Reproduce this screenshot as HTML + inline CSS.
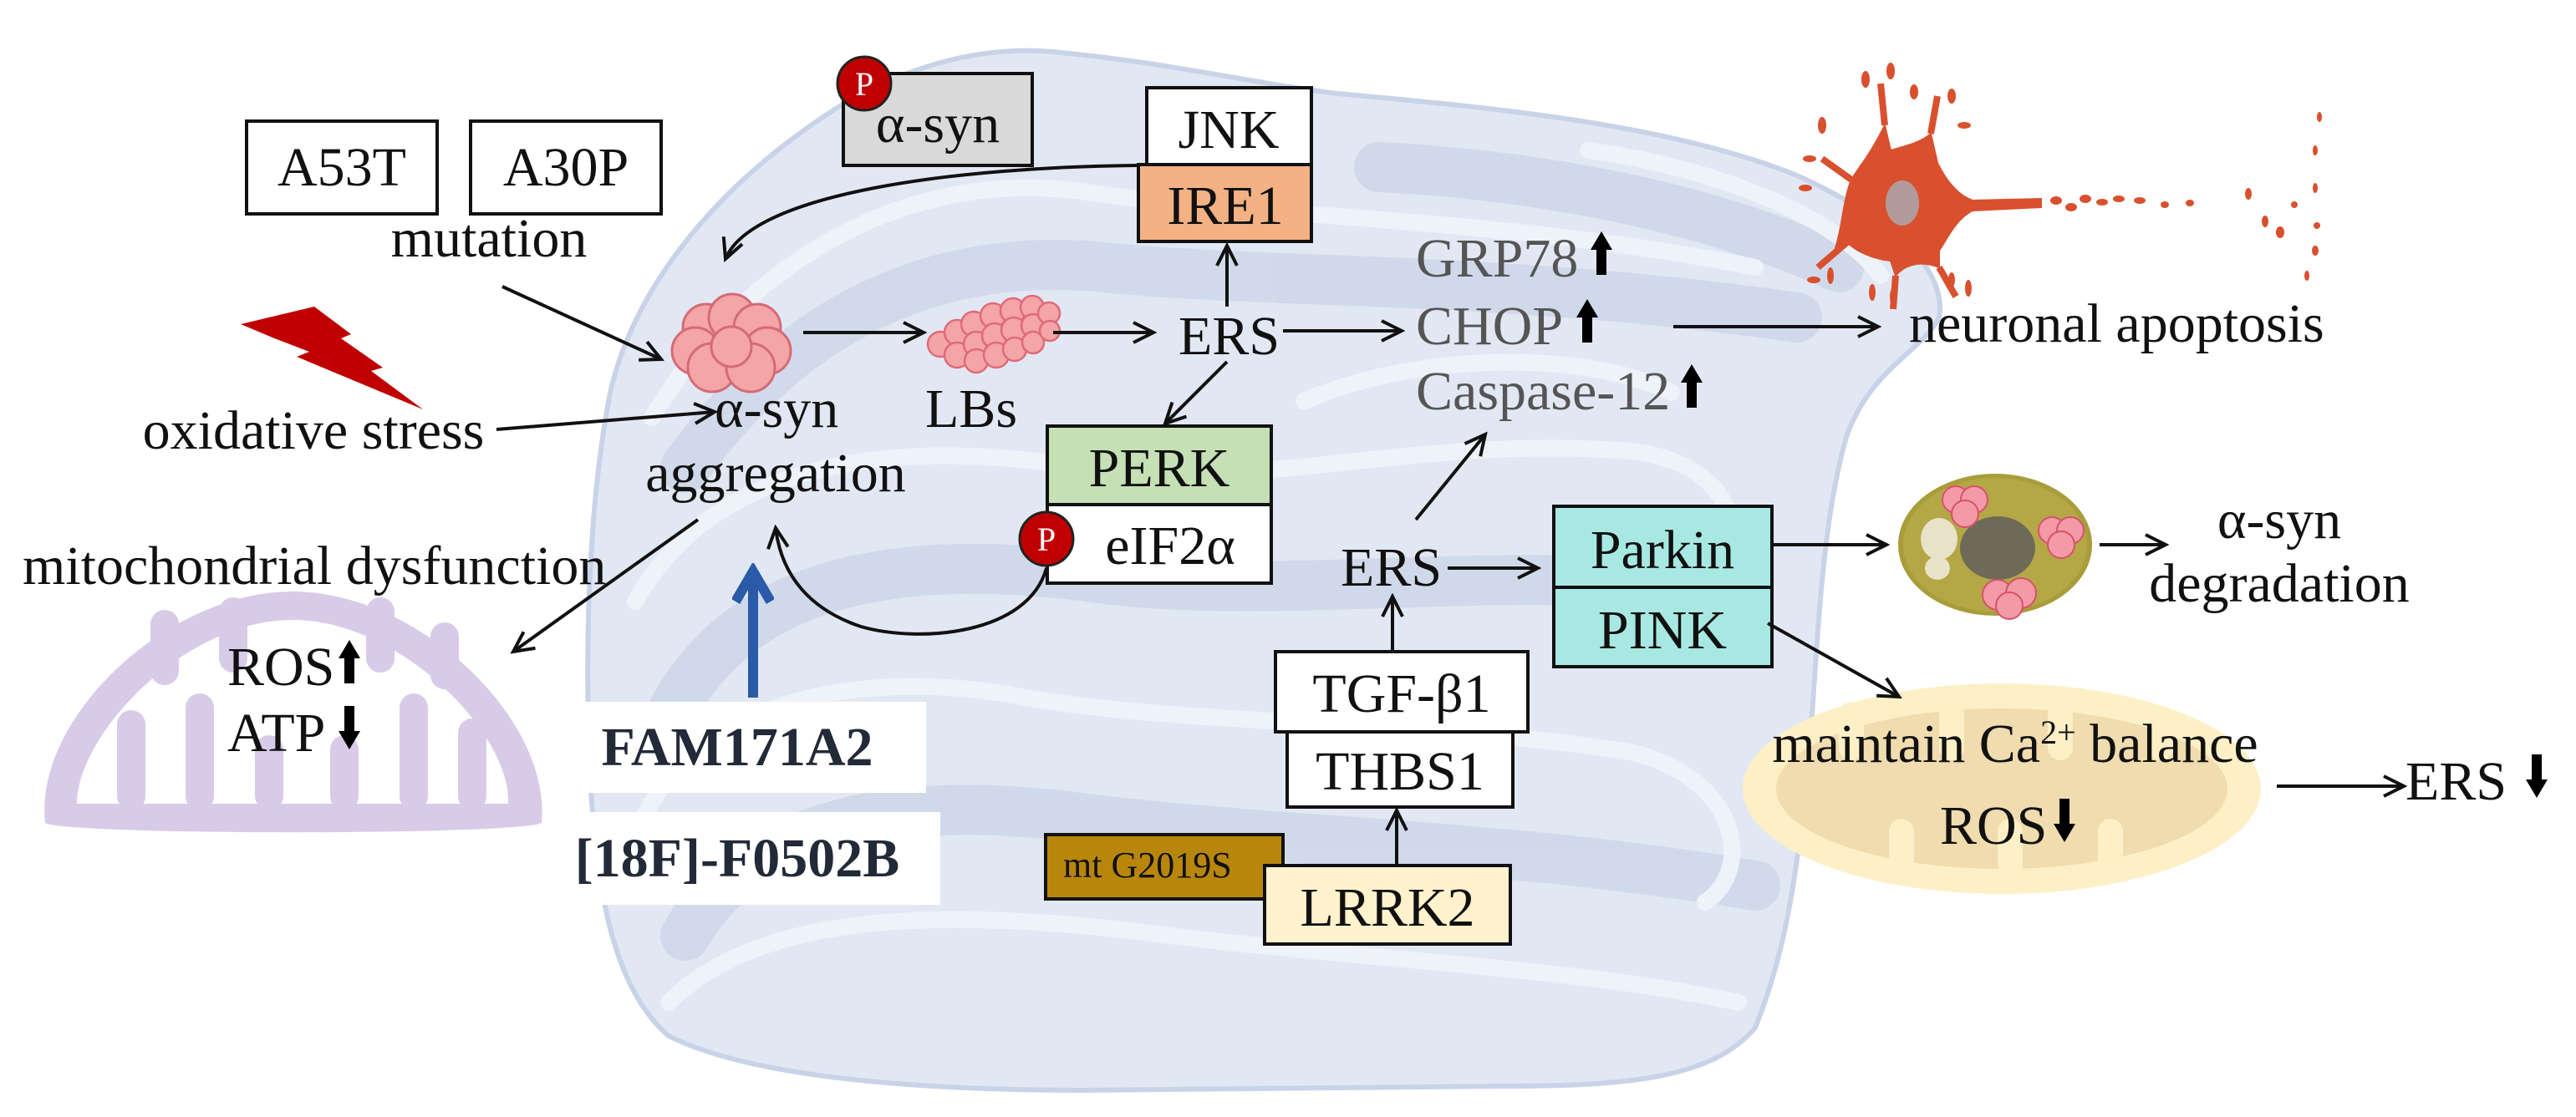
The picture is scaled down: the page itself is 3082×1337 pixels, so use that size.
<!DOCTYPE html>
<html><head><meta charset="utf-8"><style>
html,body{margin:0;padding:0;background:#fff}
svg{display:block}
text{font-family:"Liberation Serif",serif;fill:#111}
</style></head><body>
<svg width="3082" height="1337" viewBox="0 0 3082 1337" xmlns="http://www.w3.org/2000/svg" font-size="66">
<defs>
<marker id="ah" markerWidth="30" markerHeight="30" refX="26" refY="14" orient="auto" markerUnits="userSpaceOnUse">
<path d="M2,2 L26,14 L2,26" fill="none" stroke="#111" stroke-width="4"/>
</marker>
<marker id="bh" markerWidth="50" markerHeight="50" refX="40" refY="25" orient="auto" markerUnits="userSpaceOnUse">
<path d="M4,4 L40,25 L4,46" fill="none" stroke="#2a5aa8" stroke-width="12"/>
</marker>
<g id="up"><polygon points="-6,0 6,0 6,-30 13,-30 0,-52 -13,-30 -6,-30" fill="#000"/></g>
<g id="dn"><polygon points="-6,-52 6,-52 6,-22 13,-22 0,0 -13,-22 -6,-22" fill="#000"/></g>
</defs>

<!-- ER background -->
<path d="M730,470 C760,340 860,220 1000,130 C1090,75 1180,55 1260,62 C1400,75 1500,100 1600,112 C1800,130 2000,150 2150,210 C2260,260 2330,320 2320,380 C2300,420 2240,440 2210,520 C2180,620 2175,760 2165,900 C2150,1040 2140,1130 2100,1230 C2050,1290 1950,1300 1800,1300 L1300,1305 C1100,1305 900,1290 800,1240 C730,1180 710,1050 705,900 C700,760 705,600 730,470 Z" fill="#e2e8f3" stroke="#c9d3e8" stroke-width="6"/>
<g fill="none" stroke="#cfd8ea" stroke-width="60" stroke-linecap="round" opacity="0.9">
<path d="M820,560 C950,380 1120,300 1320,320 C1520,340 1800,330 2150,380"/>
<path d="M800,860 C880,700 1060,660 1300,690 C1500,720 1750,680 2000,700"/>
<path d="M820,1120 C900,980 1080,950 1300,980 C1550,1010 1800,1010 2100,1060"/>
<path d="M1650,200 C1850,210 2050,250 2200,320"/>
</g>
<g fill="none" stroke="#eef2f9" stroke-width="20" stroke-linecap="round">
<path d="M780,500 C900,300 1100,200 1300,230 C1500,260 1800,260 2100,320"/>
<path d="M760,720 C850,560 1050,520 1300,560 C1500,590 1700,520 1950,540 C2050,550 2100,620 2050,680"/>
<path d="M760,1000 C820,850 1000,800 1200,830 C1400,870 1700,860 1950,900 C2080,930 2100,1040 2040,1080"/>
<path d="M800,1200 C900,1100 1100,1080 1400,1120 C1650,1150 1900,1160 2080,1200"/>
<path d="M1900,180 C2050,200 2200,260 2250,330"/>
<path d="M1560,480 C1700,420 1900,420 2000,470"/>
</g>

<!-- Purple mitochondrion -->
<path d="M54,985 C40,860 200,708 350,708 C500,708 660,860 648,985 C620,1000 80,1000 54,985 Z" fill="#d8cbe8"/>
<path d="M92,962 C92,880 220,742 350,742 C480,742 612,880 608,962 Z" fill="#fff"/>
<g fill="#d8cbe8">
<rect x="140" y="850" width="34" height="120" rx="17"/><rect x="222" y="830" width="34" height="140" rx="17"/>
<rect x="305" y="880" width="34" height="90" rx="17"/><rect x="395" y="880" width="34" height="90" rx="17"/>
<rect x="478" y="830" width="34" height="140" rx="17"/><rect x="548" y="860" width="34" height="110" rx="17"/>
<rect x="180" y="730" width="34" height="90" rx="17"/><rect x="262" y="715" width="34" height="90" rx="17"/>
<rect x="438" y="715" width="34" height="90" rx="17"/><rect x="515" y="745" width="34" height="80" rx="17"/>
</g>
<text x="272" y="820">ROS</text><use href="#up" x="418" y="818"/>
<text x="272" y="899">ATP</text><use href="#dn" x="418" y="897"/>

<!-- Yellow mitochondrion -->
<ellipse cx="2395" cy="944" rx="310" ry="126" fill="#fdf0c6"/>
<ellipse cx="2395" cy="944" rx="270" ry="96" fill="#f0dcae"/>
<g fill="#fdf0c6">
<rect x="2200" y="840" width="30" height="70" rx="15"/><rect x="2320" y="840" width="30" height="70" rx="15"/>
<rect x="2450" y="840" width="30" height="70" rx="15"/><rect x="2570" y="850" width="30" height="60" rx="15"/>
<rect x="2260" y="980" width="30" height="70" rx="15"/><rect x="2390" y="980" width="30" height="70" rx="15"/>
<rect x="2510" y="980" width="30" height="70" rx="15"/>
</g>
<text x="2411" y="912" text-anchor="middle">maintain Ca<tspan style="font-size:40px" dy="-22">2+</tspan><tspan dy="22"> balance</tspan></text>
<text x="2321" y="1010">ROS</text><use href="#dn" x="2470" y="1008"/>
<line x1="2724" y1="941" x2="2876" y2="941" stroke="#111" stroke-width="4" marker-end="url(#ah)"/>
<text x="2878" y="957">ERS</text><use href="#dn" x="3035" y="955"/>

<!-- lightning -->
<polygon points="288,388 376,367 420,400 408,405 458,440 444,444 506,490 355,427 370,421 326,404" fill="#c00000"/>

<!-- boxes A53T A30P -->
<rect x="295" y="145" width="228" height="111" fill="#fff" stroke="#111" stroke-width="4"/>
<text x="409" y="222" text-anchor="middle">A53T</text>
<rect x="563" y="145" width="228" height="111" fill="#fff" stroke="#111" stroke-width="4"/>
<text x="677" y="222" text-anchor="middle">A30P</text>
<text x="585" y="307" text-anchor="middle">mutation</text>
<line x1="601" y1="343" x2="791" y2="430" stroke="#111" stroke-width="4" marker-end="url(#ah)"/>

<text x="375" y="537" text-anchor="middle">oxidative stress</text>
<line x1="594" y1="514" x2="855" y2="493" stroke="#111" stroke-width="4" marker-end="url(#ah)"/>

<!-- alpha-syn cluster -->
<g fill="#f4a5a5" stroke="#d56a78" stroke-width="3">
<circle cx="845" cy="392" r="28"/><circle cx="876" cy="380" r="28"/><circle cx="906" cy="392" r="28"/>
<circle cx="832" cy="420" r="28"/><circle cx="918" cy="420" r="28"/>
<circle cx="852" cy="440" r="29"/><circle cx="898" cy="440" r="29"/><circle cx="875" cy="415" r="24"/>
</g>
<text x="855" y="511">α-syn</text>
<text x="928" y="588" text-anchor="middle">aggregation</text>
<line x1="961" y1="398" x2="1105" y2="398" stroke="#111" stroke-width="4" marker-end="url(#ah)"/>

<!-- LBs -->
<g fill="#f4a5a5" stroke="#e06a7a" stroke-width="2.5">
<circle cx="1125" cy="412" r="15"/><circle cx="1145" cy="398" r="15"/><circle cx="1145" cy="425" r="15"/>
<circle cx="1165" cy="388" r="15"/><circle cx="1168" cy="412" r="15"/><circle cx="1168" cy="432" r="14"/>
<circle cx="1188" cy="378" r="15"/><circle cx="1190" cy="402" r="15"/><circle cx="1192" cy="425" r="15"/>
<circle cx="1212" cy="372" r="15"/><circle cx="1213" cy="395" r="15"/><circle cx="1214" cy="418" r="14"/>
<circle cx="1235" cy="368" r="14"/><circle cx="1236" cy="390" r="14"/><circle cx="1236" cy="410" r="13"/>
<circle cx="1255" cy="375" r="13"/><circle cx="1256" cy="396" r="12"/>
</g>
<text x="1162" y="511" text-anchor="middle">LBs</text>
<line x1="1260" y1="398" x2="1380" y2="398" stroke="#111" stroke-width="4" marker-end="url(#ah)"/>
<text x="1410" y="424">ERS</text>
<line x1="1468" y1="367" x2="1468" y2="294" stroke="#111" stroke-width="4" marker-end="url(#ah)"/>
<line x1="1468" y1="433" x2="1394" y2="507" stroke="#111" stroke-width="4" marker-end="url(#ah)"/>
<line x1="1535" y1="396" x2="1677" y2="396" stroke="#111" stroke-width="4" marker-end="url(#ah)"/>

<!-- P alpha-syn -->
<rect x="1009" y="88" width="226" height="110" fill="#d9d9d9" stroke="#111" stroke-width="4"/>
<text x="1122" y="170" text-anchor="middle">α-syn</text>
<circle cx="1034" cy="100" r="32" fill="#c00000" stroke="#222" stroke-width="3"/>
<text x="1034" y="114" text-anchor="middle" style="font-size:40px;fill:#fff">P</text>

<!-- JNK / IRE1 -->
<rect x="1372" y="105" width="197" height="92" fill="#fff" stroke="#111" stroke-width="4"/>
<text x="1470" y="177" text-anchor="middle">JNK</text>
<rect x="1362" y="197" width="207" height="92" fill="#f4b183" stroke="#111" stroke-width="4"/>
<text x="1466" y="268" text-anchor="middle">IRE1</text>
<path d="M1360,198 C1150,200 900,230 868,310" fill="none" stroke="#111" stroke-width="4" marker-end="url(#ah)"/>

<!-- PERK / eIF2a -->
<rect x="1253" y="510" width="268" height="94" fill="#c5e0b4" stroke="#111" stroke-width="4"/>
<text x="1387" y="582" text-anchor="middle">PERK</text>
<rect x="1253" y="604" width="268" height="94" fill="#fff" stroke="#111" stroke-width="4"/>
<text x="1400" y="675" text-anchor="middle">eIF2α</text>
<path d="M1252,680 C1230,760 1100,770 1030,750 C970,730 935,690 928,632" fill="none" stroke="#111" stroke-width="4" marker-end="url(#ah)"/>
<circle cx="1252" cy="645" r="32" fill="#c00000" stroke="#222" stroke-width="3"/>
<text x="1252" y="659" text-anchor="middle" style="font-size:40px;fill:#fff">P</text>

<!-- mito dysfunction -->
<text x="27" y="699">mitochondrial dysfunction</text>
<line x1="835" y1="622" x2="614" y2="780" stroke="#111" stroke-width="4" marker-end="url(#ah)"/>

<!-- blue arrow + drugs -->
<line x1="901" y1="835" x2="901" y2="684" stroke="#2a5aa8" stroke-width="12" marker-end="url(#bh)"/>
<rect x="688" y="840" width="420" height="109" fill="#fff"/>
<text x="882" y="916" text-anchor="middle" font-weight="bold" style="fill:#222a38">FAM171A2</text>
<rect x="688" y="972" width="437" height="111" fill="#fff"/>
<text x="882" y="1049" text-anchor="middle" font-weight="bold" style="fill:#222a38">[18F]-F0502B</text>

<!-- GRP78 etc -->
<text x="1694" y="331" style="fill:#555">GRP78</text><use href="#up" x="1916" y="329"/>
<text x="1694" y="412" style="fill:#555">CHOP</text><use href="#up" x="1899" y="410"/>
<text x="1694" y="490" style="fill:#555">Caspase-12</text><use href="#up" x="2024" y="488"/>
<line x1="2002" y1="391" x2="2247" y2="391" stroke="#111" stroke-width="4" marker-end="url(#ah)"/>
<text x="2284" y="409">neuronal apoptosis</text>

<!-- neuron -->
<g fill="#d9502e" stroke="#d9502e">
<path d="M2225,200 C2240,180 2250,160 2255,150 L2262,180 C2280,175 2300,170 2310,160 L2318,195 C2330,220 2345,235 2360,240 L2442,238 L2442,248 L2360,252 C2340,262 2330,285 2320,300 L2320,320 C2300,312 2280,315 2268,330 L2262,312 C2240,310 2220,300 2210,290 L2195,300 C2205,270 2205,240 2215,215 Z" stroke-width="2"/>
<path d="M2255,150 L2250,100 M2310,160 L2318,115 M2215,215 L2180,190 M2210,290 L2175,320 M2268,330 L2265,370 M2320,320 L2340,355" fill="none" stroke-width="8"/>
<g stroke="none">
<ellipse cx="2232" cy="95" rx="5" ry="10"/><ellipse cx="2262" cy="85" rx="5" ry="10"/><ellipse cx="2290" cy="110" rx="5" ry="9"/><ellipse cx="2335" cy="115" rx="5" ry="9"/><ellipse cx="2350" cy="150" rx="8" ry="4"/>
<ellipse cx="2180" cy="150" rx="5" ry="10"/><ellipse cx="2165" cy="190" rx="8" ry="4"/><ellipse cx="2160" cy="225" rx="8" ry="4"/>
<ellipse cx="2170" cy="335" rx="8" ry="4"/><ellipse cx="2190" cy="330" rx="4" ry="10"/><ellipse cx="2240" cy="350" rx="4" ry="10"/><ellipse cx="2265" cy="355" rx="4" ry="10"/><ellipse cx="2335" cy="335" rx="4" ry="9"/><ellipse cx="2355" cy="345" rx="4" ry="10"/>
<ellipse cx="2460" cy="240" rx="7" ry="5"/><ellipse cx="2478" cy="248" rx="7" ry="5"/><ellipse cx="2495" cy="238" rx="7" ry="5"/><ellipse cx="2515" cy="242" rx="7" ry="4"/><ellipse cx="2535" cy="238" rx="7" ry="4"/><ellipse cx="2560" cy="240" rx="7" ry="4"/><ellipse cx="2590" cy="245" rx="5" ry="4"/><ellipse cx="2620" cy="243" rx="5" ry="4"/>
<ellipse cx="2690" cy="232" rx="4" ry="7"/><ellipse cx="2710" cy="265" rx="4" ry="7"/><ellipse cx="2728" cy="278" rx="5" ry="7"/><ellipse cx="2745" cy="245" rx="4" ry="4"/><ellipse cx="2770" cy="225" rx="3" ry="6"/><ellipse cx="2770" cy="180" rx="3" ry="6"/><ellipse cx="2775" cy="140" rx="3" ry="6"/><ellipse cx="2770" cy="300" rx="4" ry="6"/><ellipse cx="2760" cy="330" rx="3" ry="6"/><ellipse cx="2772" cy="270" rx="4" ry="4"/>
</g>
</g>
<ellipse cx="2276" cy="243" rx="20" ry="27" fill="#b39a9a"/>

<!-- ERS 2 -->
<text x="1604" y="701">ERS</text>
<line x1="1694" y1="622" x2="1777" y2="520" stroke="#111" stroke-width="4" marker-end="url(#ah)"/>
<line x1="1732" y1="680" x2="1840" y2="680" stroke="#111" stroke-width="4" marker-end="url(#ah)"/>
<line x1="1666" y1="780" x2="1666" y2="714" stroke="#111" stroke-width="4" marker-end="url(#ah)"/>

<!-- Parkin / PINK -->
<rect x="1859" y="606" width="261" height="97" fill="#a8e8e2" stroke="#111" stroke-width="4"/>
<text x="1989" y="680" text-anchor="middle">Parkin</text>
<rect x="1859" y="703" width="261" height="95" fill="#a8e8e2" stroke="#111" stroke-width="4"/>
<text x="1989" y="776" text-anchor="middle">PINK</text>
<line x1="2120" y1="652" x2="2257" y2="652" stroke="#111" stroke-width="4" marker-end="url(#ah)"/>
<line x1="2115" y1="746" x2="2272" y2="834" stroke="#111" stroke-width="4" marker-end="url(#ah)"/>

<!-- lysosome -->
<ellipse cx="2387" cy="652" rx="116" ry="85" fill="#a89d3a"/>
<ellipse cx="2387" cy="652" rx="110" ry="80" fill="#b3a845"/>
<ellipse cx="2390" cy="656" rx="45" ry="38" fill="#6e6a58"/>
<ellipse cx="2320" cy="645" rx="22" ry="25" fill="#e8e2c8"/><ellipse cx="2318" cy="680" rx="15" ry="14" fill="#e8e2c8"/>
<g fill="#f29aa8" stroke="#d9506a" stroke-width="2">
<circle cx="2340" cy="598" r="16"/><circle cx="2362" cy="598" r="16"/><circle cx="2351" cy="615" r="16"/>
<circle cx="2455" cy="635" r="16"/><circle cx="2477" cy="635" r="16"/><circle cx="2466" cy="652" r="16"/>
<circle cx="2390" cy="712" r="18"/><circle cx="2418" cy="710" r="18"/><circle cx="2404" cy="725" r="16"/>
</g>
<line x1="2512" y1="652" x2="2591" y2="652" stroke="#111" stroke-width="4" marker-end="url(#ah)"/>
<text x="2727" y="644" text-anchor="middle">α-syn</text>
<text x="2727" y="720" text-anchor="middle">degradation</text>

<!-- TGF, THBS1, LRRK2 -->
<rect x="1526" y="780" width="302" height="96" fill="#fff" stroke="#111" stroke-width="4"/>
<text x="1677" y="852" text-anchor="middle">TGF-β1</text>
<rect x="1540" y="876" width="270" height="90" fill="#fff" stroke="#111" stroke-width="4"/>
<text x="1675" y="945" text-anchor="middle">THBS1</text>
<line x1="1671" y1="1036" x2="1671" y2="970" stroke="#111" stroke-width="4" marker-end="url(#ah)"/>
<rect x="1251" y="999" width="284" height="77" fill="#b8860b" stroke="#111" stroke-width="4"/>
<text x="1272" y="1050" style="font-size:44px">mt G2019S</text>
<rect x="1513" y="1036" width="294" height="94" fill="#fff2cc" stroke="#111" stroke-width="4"/>
<text x="1660" y="1108" text-anchor="middle">LRRK2</text>
</svg>
</body></html>
